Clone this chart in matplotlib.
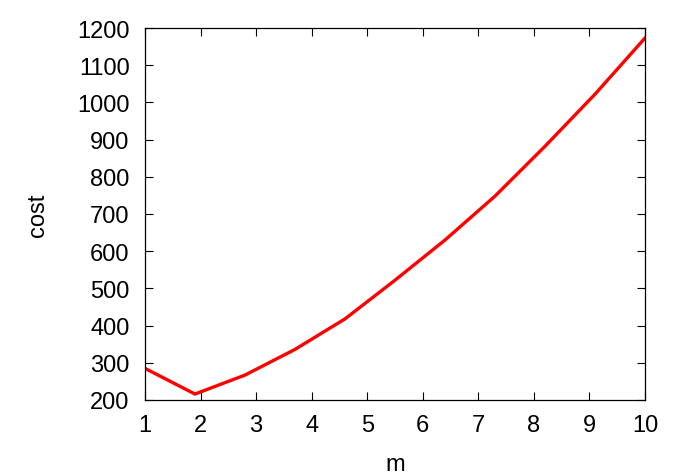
import matplotlib
matplotlib.use("Agg")
import matplotlib.pyplot as plt

m = [1.0, 1.9, 2.8, 3.7, 4.6, 5.5, 6.4, 7.3, 8.2, 9.1, 10.0]
cost = [285, 216, 267, 336, 418, 522, 630, 748, 882, 1022, 1173]

plt.rcParams['font.family'] = ['Liberation Sans', 'DejaVu Sans']
plt.rcParams['font.size'] = 17

fig = plt.figure(figsize=(6.81, 4.77), dpi=100)
ax = fig.add_axes([145 / 681, 1 - 401 / 477, 500 / 681, 372 / 477])
ax.plot(m, cost, color='#ff0000', linewidth=2.4)

ax.set_xlim(1, 10)
ax.set_ylim(200, 1200)
ax.set_xticks(range(1, 11))
ax.set_yticks(range(200, 1201, 100))
ax.tick_params(axis='y', direction='in', right=True, length=6, width=0.8, pad=11)
ax.tick_params(axis='x', direction='in', top=True, length=6, width=0.8, pad=10)
for s in ax.spines.values():
    s.set_linewidth(0.9)

ax.set_xlabel('m', labelpad=12)
ax.set_ylabel('cost', labelpad=20)

fig.savefig('out.png', dpi=100)
